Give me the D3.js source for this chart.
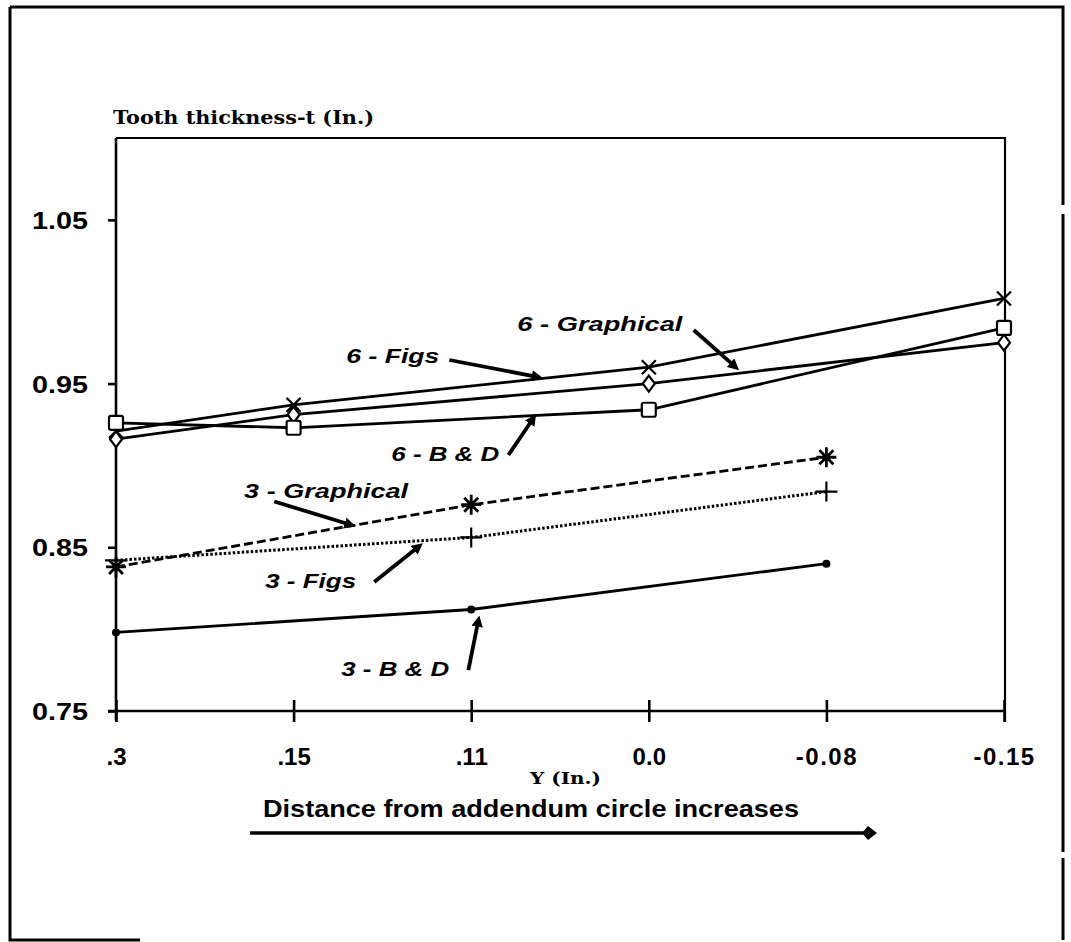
<!DOCTYPE html>
<html>
<head>
<meta charset="utf-8">
<script src="https://cdn.jsdelivr.net/npm/d3@7"></script>
<style>
  html, body { margin: 0; padding: 0; background: #fff; }
  svg { display: block; }
  .tick text { font-family: "Liberation Sans", Arial, sans-serif; font-weight: bold; fill: #000; }
</style>
</head>
<body>
<div id="chart"></div>
<script>
// categories on the x axis (Y in inches, decreasing)
const categories = ['.3', '.15', '.11', '0.0', '-0.08', '-0.15'];
const yTicks = [0.75, 0.85, 0.95, 1.05];

// tooth thickness values, null where no point was plotted
const figs6      = [0.921, 0.937, null, 0.960, null, 1.002];
const graphical6 = [0.916, 0.931, null, 0.950, null, 0.975];
const bd6        = [0.926, 0.923, null, 0.934, null, 0.984];
const graphical3 = [0.838, null, 0.876, null, 0.905, null];
const figs3      = [0.842, null, 0.856, null, 0.884, null];
const bd3        = [0.798, null, 0.812, null, 0.840, null];

const series = [
  {name: '6 - Figs', values: figs6, marker: 'x', dash: null},
  {name: '6 - Graphical', values: graphical6, marker: 'diamond', dash: null},
  {name: '6 - B & D', values: bd6, marker: 'square', dash: null},
  {name: '3 - Graphical', values: graphical3, marker: 'asterisk', dash: '9,4'},
  {name: '3 - Figs', values: figs3, marker: 'plus', dash: '2.5,2'},
  {name: '3 - B & D', values: bd3, marker: 'dot', dash: null}
];

// callout labels, placed in data space: [category index, thickness]
const callouts = [
  {text: '6 - Figs', at: [1.297, 0.9626], w: 93, from: [1.877, 0.9644], to: [2.379, 0.954]},
  {text: '6 - Graphical', at: [2.260, 0.982], w: 165, from: [3.253, 0.9827], to: [3.489, 0.960]},
  {text: '6 - B & D', at: [1.550, 0.9027], w: 108, from: [2.210, 0.9064], to: [2.351, 0.929]},
  {text: '3 - Graphical', at: [0.7215, 0.880], w: 164, from: [0.891, 0.878], to: [1.325, 0.8636]},
  {text: '3 - Figs', at: [0.840, 0.825], w: 91, from: [1.454, 0.8288], to: [1.708, 0.8508]},
  {text: '3 - B & D', at: [1.268, 0.7714], w: 108, from: [1.984, 0.775], to: [2.041, 0.8056]}
];

const width = 1071, height = 942;
const margin = {top: 138, right: 67, bottom: 231, left: 116};

const svg = d3.select('#chart').append('svg')
  .attr('width', width)
  .attr('height', height);

// outer frame of the scanned page
svg.append('path')
  .attr('d', `M10,7 L1063,7 L1063,205 M1063,214 L1063,852 M1063,858 L1063,940 M10,7 L10,940 L140,940`)
  .attr('fill', 'none')
  .attr('stroke', '#000')
  .attr('stroke-width', 3);

const x = d3.scalePoint()
  .domain(categories)
  .range([margin.left, width - margin.right]);

// linear version of x for placing callouts between categories
const xi = d3.scaleLinear()
  .domain([0, categories.length - 1])
  .range([margin.left, width - margin.right]);

const y = d3.scaleLinear()
  .domain([0.75, 1.10])
  .range([height - margin.bottom, margin.top]);

const x0 = x.range()[0], x1 = x.range()[1];
const yTop = y(1.10), yBot = y(0.75);

// plot frame: top and right
svg.append('path')
  .attr('d', `M${x0},${yTop} L${x1 + 1},${yTop} L${x1 + 1},${yBot + 11}`)
  .attr('fill', 'none')
  .attr('stroke', '#000')
  .attr('stroke-width', 2.2);

// Y axis
const yAxis = svg.append('g')
  .attr('transform', `translate(${x0},0)`)
  .call(d3.axisLeft(y).tickValues(yTicks).tickFormat(d3.format('.2f')).tickSize(8).tickPadding(20));
yAxis.select('.domain').attr('d', `M0,${yTop}V${yBot + 10}`).attr('stroke-width', 2.6);
yAxis.selectAll('.tick line').attr('stroke-width', 2.6);
yAxis.selectAll('.tick text')
  .attr('font-size', 24)
  .attr('dy', '0.36em')
  .attr('textLength', 56)
  .attr('lengthAdjust', 'spacingAndGlyphs');

// X axis, ticks cross the line
const xAxis = svg.append('g')
  .attr('transform', `translate(0,${yBot})`)
  .call(d3.axisBottom(x).tickSize(11).tickPadding(0));
xAxis.select('.domain').attr('d', `M${x0 - 8},0H${x1 + 1}`).attr('stroke-width', 2.6);
xAxis.selectAll('.tick line').attr('y1', -11).attr('y2', 11).attr('stroke-width', 2.6);
xAxis.selectAll('.tick text')
  .attr('font-size', 24)
  .attr('y', 54)
  .attr('dy', 0)
  .attr('letter-spacing', d => d.startsWith('-') ? 1.5 : 0);

// axis titles
svg.append('text')
  .attr('x', x0 - 3)
  .attr('y', 124)
  .attr('font-family', '"DejaVu Serif", serif')
  .attr('font-weight', 'bold')
  .attr('font-size', 19)
  .attr('textLength', 261)
  .attr('lengthAdjust', 'spacingAndGlyphs')
  .text('Tooth thickness-t (In.)');

svg.append('text')
  .attr('x', 530)
  .attr('y', 784)
  .attr('font-family', '"DejaVu Serif", serif')
  .attr('font-weight', 'bold')
  .attr('font-size', 17)
  .attr('textLength', 71)
  .attr('lengthAdjust', 'spacingAndGlyphs')
  .text('Y (In.)');

svg.append('text')
  .attr('x', 263)
  .attr('y', 817)
  .attr('font-family', '"Liberation Sans", Arial, sans-serif')
  .attr('font-weight', 'bold')
  .attr('font-size', 24)
  .attr('textLength', 536)
  .attr('lengthAdjust', 'spacingAndGlyphs')
  .text('Distance from addendum circle increases');

svg.append('line')
  .attr('x1', 250).attr('x2', 868)
  .attr('y1', 833).attr('y2', 833)
  .attr('stroke', '#000')
  .attr('stroke-width', 3.5);
svg.append('path')
  .attr('d', 'M868,826 L877,833 L868,840 L862,833 Z')
  .attr('fill', '#000');

// series lines
const line = d3.line()
  .x(d => x(d.cat))
  .y(d => y(d.v));

series.forEach(s => {
  s.points = categories
    .map((cat, i) => ({cat, v: s.values[i]}))
    .filter(d => d.v !== null);
});

series.forEach(s => {
  svg.append('path')
    .datum(s.points)
    .attr('fill', 'none')
    .attr('stroke', '#000')
    .attr('stroke-width', s.dash === '2.5,2' ? 3 : 2.8)
    .attr('stroke-dasharray', s.dash)
    .attr('d', line);
});

// markers
const drawMarker = (g, type) => {
  const st = sel => sel.attr('stroke', '#000').attr('stroke-width', 2.2);
  if (type === 'x') {
    st(g.append('path').attr('d', 'M-7,-7L7,7M-7,7L7,-7'));
  } else if (type === 'diamond') {
    st(g.append('path').attr('d', 'M0,-8L6,0L0,8L-6,0Z').attr('fill', '#fff'));
  } else if (type === 'square') {
    st(g.append('rect').attr('x', -7).attr('y', -7).attr('width', 14).attr('height', 14)
      .attr('rx', 2).attr('fill', '#fff'));
  } else if (type === 'asterisk') {
    st(g.append('path').attr('d', 'M0,-10V10M-10,0H10M-7,-7L7,7M-7,7L7,-7')).attr('stroke-width', 2.8);
  } else if (type === 'plus') {
    st(g.append('path').attr('d', 'M0,-10V10M-11,0H11'));
  } else if (type === 'dot') {
    g.append('circle').attr('r', 4).attr('fill', '#000');
  }
};

series.forEach(s => {
  svg.append('g').selectAll('g')
    .data(s.points)
    .join('g')
      .attr('transform', d => `translate(${x(d.cat)},${y(d.v)})`)
      .each(function() { drawMarker(d3.select(this), s.marker); });
});

// callouts
svg.append('defs').append('marker')
  .attr('id', 'head')
  .attr('viewBox', '0 0 10 10')
  .attr('refX', 6).attr('refY', 5)
  .attr('markerWidth', 3).attr('markerHeight', 3)
  .attr('orient', 'auto')
  .append('path')
    .attr('d', 'M0,0L10,5L0,10Z')
    .attr('fill', '#000');

callouts.forEach(c => {
  svg.append('text')
    .attr('x', xi(c.at[0]))
    .attr('y', y(c.at[1]))
    .attr('font-family', '"Liberation Sans", Arial, sans-serif')
    .attr('font-weight', 'bold')
    .attr('font-style', 'italic')
    .attr('font-size', 20)
    .attr('textLength', c.w)
    .attr('lengthAdjust', 'spacingAndGlyphs')
    .text(c.text);
  svg.append('line')
    .attr('x1', xi(c.from[0])).attr('y1', y(c.from[1]))
    .attr('x2', xi(c.to[0])).attr('y2', y(c.to[1]))
    .attr('stroke', '#000')
    .attr('stroke-width', 3.8)
    .attr('marker-end', 'url(#head)');
});
</script>
</body>
</html>
